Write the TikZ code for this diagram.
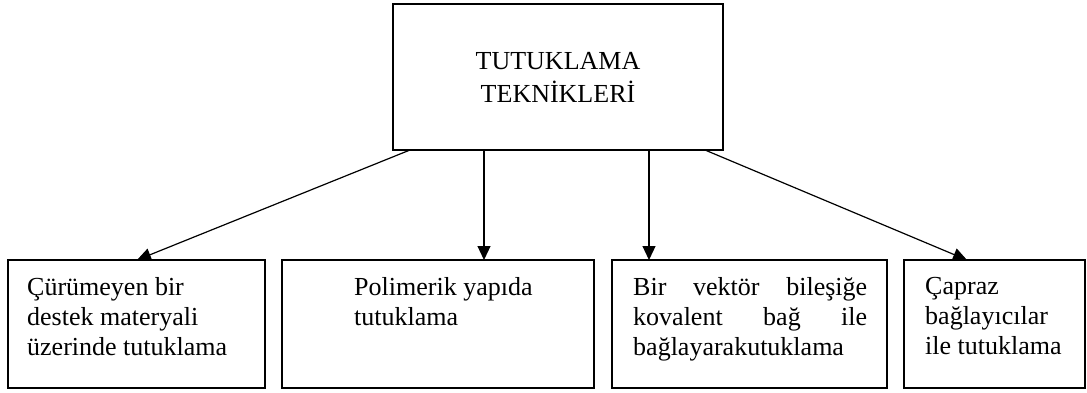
\documentclass[tikz,border=0pt]{standalone}
\usepackage{fontspec}
\setmainfont{Liberation Serif}
\usetikzlibrary{arrows.meta,positioning}
\begin{document}
\begin{tikzpicture}[x=1pt,y=-1pt,
    kutu/.style={draw, line width=1.7pt, inner sep=0pt, outer sep=0pt, anchor=north west, minimum height=128pt},
    yazi/.style={inner sep=0pt, anchor=north west, align=left, font=\fontsize{26}{30}\selectfont, execute at begin node=\strut},
    ok/.style={line width=1.2pt, -{Triangle[length=14pt,width=13pt]}}]
  \useasboundingbox (0,0) rectangle (1087,392);
  % ana kutu
  \node[draw, line width=1.7pt, outer sep=0pt, minimum width=330pt, minimum height=146pt, anchor=north west,
        align=center, font=\fontsize{26}{33}\selectfont] (ana) at (393,4) {TUTUKLAMA\\TEKNİKLERİ};
  % alt kutular
  \node[kutu, minimum width=257pt] (k1) at (8,260) {};
  \node[kutu, minimum width=312pt, right=17pt of k1] (k2) {};
  \node[kutu, minimum width=275pt, right=18pt of k2] (k3) {};
  \node[kutu, minimum width=181pt, right=17pt of k3] (k4) {};
  % yazilar
  \node[yazi] (y1) at ([shift={(19pt,-17pt)}]k1.north west) {Çürümeyen bir\\destek materyali\\üzerinde tutuklama};
  \node[yazi] (y2) at ([shift={(72pt,-17pt)}]k2.north west) {Polimerik yapıda\\tutuklama};
  \node[yazi] (y3) at ([shift={(21pt,-17pt)}]k3.north west) {\makebox[234pt][s]{Bir vektör bileşiğe}\\
    \makebox[234pt][s]{kovalent bağ ile}\\bağlayarakutuklama};
  \node[yazi] (y4) at ([shift={(21pt,-17pt)}]k4.north west) {Çapraz\\bağlayıcılar\\ile tutuklama};
  % oklar
  \draw[ok] ([xshift=17pt]ana.south west) -- ([xshift=129pt]k1.north west);
  \draw[ok] ([xshift=91pt]ana.south west) -- ([xshift=202pt]k2.north west);
  \draw[ok] ([xshift=256pt]ana.south west) -- ([xshift=37pt]k3.north west);
  \draw[ok] ([xshift=312pt]ana.south west) -- ([xshift=63pt]k4.north west);
\end{tikzpicture}
\end{document}
